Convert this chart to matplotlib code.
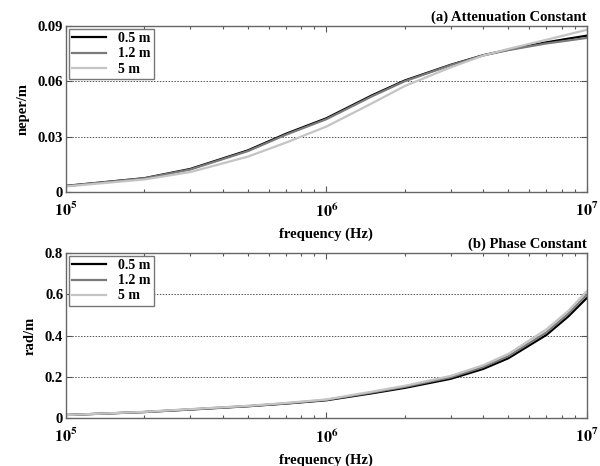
import matplotlib
matplotlib.use("Agg")
import matplotlib.pyplot as plt
import numpy as np

plt.rcParams['font.family'] = ['Liberation Serif', 'DejaVu Serif']
plt.rcParams['font.weight'] = 'bold'
plt.rcParams['mathtext.fontset'] = 'stix'

freq = [1e5, 2e5, 3e5, 5e5, 7e5, 1e6, 1.5e6, 2e6, 3e6, 4e6, 5e6, 7e6, 8.5e6, 1e7]
labels = ['0.5 m', '1.2 m', '5 m']

att_05 = [0.0033, 0.0075, 0.0125, 0.0226, 0.0316, 0.0400, 0.0525, 0.0605, 0.0690, 0.0742, 0.0772, 0.0812, 0.0832, 0.0848]
att_12 = [0.0033, 0.0074, 0.0122, 0.0222, 0.0311, 0.0395, 0.0520, 0.0601, 0.0688, 0.0741, 0.0770, 0.0806, 0.0822, 0.0836]
att_5 = [0.0030, 0.0068, 0.0108, 0.0192, 0.0268, 0.0355, 0.0482, 0.0575, 0.0676, 0.0740, 0.0776, 0.0826, 0.0855, 0.0880]

ph_05 = [0.0145, 0.029, 0.041, 0.057, 0.070, 0.086, 0.120, 0.146, 0.190, 0.238, 0.290, 0.403, 0.493, 0.582]
ph_12 = [0.0145, 0.029, 0.042, 0.058, 0.071, 0.088, 0.124, 0.151, 0.197, 0.247, 0.300, 0.415, 0.506, 0.598]
ph_5 = [0.0145, 0.030, 0.043, 0.059, 0.073, 0.090, 0.128, 0.156, 0.204, 0.256, 0.311, 0.430, 0.520, 0.615]

colors = ['#000000', '#7a7a7a', '#c4c4c4']

fig = plt.figure(figsize=(6.0, 4.66), dpi=100)
ax1 = fig.add_axes([0.11, 0.588, 0.868, 0.356])
ax2 = fig.add_axes([0.11, 0.103, 0.868, 0.354])

def style(ax, yticks, yticklabels, ylabel, title):
    ax.set_xscale('log')
    ax.set_xlim(1e5, 1e7)
    ax.set_ylim(yticks[0], yticks[-1])
    ax.set_yticks(yticks)
    ax.set_yticklabels(yticklabels, fontsize=10.5, fontweight='bold')
    ax.set_xticks([1e5, 1e6, 1e7])
    ax.set_xticklabels([r'$\mathbf{10^{5}}$', r'$\mathbf{10^{6}}$', r'$\mathbf{10^{7}}$'], fontsize=11.5)
    ax.tick_params(axis='y', direction='in', right=True, length=4, width=0.8, colors='#555555',
                   labelcolor='black', pad=2)
    ax.tick_params(axis='x', direction='in', top=True, length=4, width=0.8, colors='#555555',
                   labelcolor='black', pad=7)
    ax.tick_params(which='minor', direction='in', top=True, right=True, length=2.5, width=0.8, color='#555555')
    ax.grid(axis='y', which='major', linestyle=(0, (1.5, 1.5)), color='#555555', linewidth=0.7)
    ax.grid(axis='x', which='both', visible=False)
    for s in ax.spines.values():
        s.set_color('#666666')
        s.set_linewidth(1.0)
    ax.set_ylabel(ylabel, fontsize=10.5, fontweight='bold', labelpad=6)
    ax.set_xlabel('frequency (Hz)', fontsize=10.5, fontweight='bold', labelpad=5)
    ax.set_title(title, loc='right', fontsize=10.5, fontweight='bold', pad=4)
    leg = ax.legend(loc='upper left', fontsize=10, fancybox=False, framealpha=1,
                    edgecolor='#777777', handlelength=2.4, borderpad=0.25, labelspacing=0.15,
                    borderaxespad=0.2, handletextpad=0.9)
    leg.get_frame().set_linewidth(1.0)
    for t in leg.get_texts():
        t.set_fontweight('bold')

for data, c, lab in zip([att_05, att_12, att_5], colors, labels):
    ax1.plot(freq, data, color=c, linewidth=1.6, label=lab)
for data, c, lab in zip([ph_05, ph_12, ph_5], colors, labels):
    ax2.plot(freq, data, color=c, linewidth=1.6, label=lab)

style(ax1, [0, 0.03, 0.06, 0.09], ['0', '0.03', '0.06', '0.09'], 'neper/m', '(a) Attenuation Constant')
style(ax2, [0, 0.2, 0.4, 0.6, 0.8], ['0', '0.2', '0.4', '0.6', '0.8'], 'rad/m', '(b) Phase Constant')

fig.savefig('out.png', dpi=100)
